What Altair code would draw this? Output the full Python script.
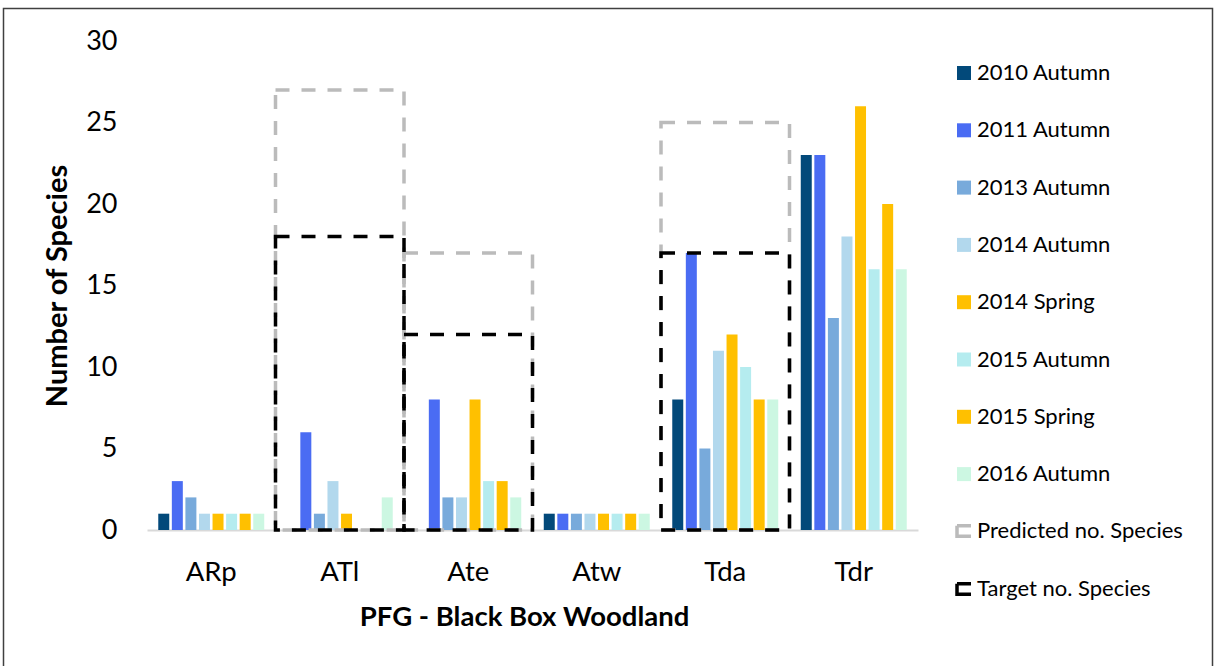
import altair as alt
import pandas as pd

categories = ["ARp", "ATl", "Ate", "Atw", "Tda", "Tdr"]
series = ["2010 Autumn", "2011 Autumn", "2013 Autumn", "2014 Autumn",
          "2014 Spring", "2015 Autumn", "2015 Spring", "2016 Autumn"]
colors = ["#02497A", "#4A6CF3", "#78AADB", "#B2D8ED",
          "#FFC000", "#B5ECEF", "#FFC000", "#CCF7E2"]

values = {
    "2010 Autumn": [1, 0, 0, 1, 8, 23],
    "2011 Autumn": [3, 6, 8, 1, 17, 23],
    "2013 Autumn": [2, 1, 2, 1, 5, 13],
    "2014 Autumn": [1, 3, 2, 1, 11, 18],
    "2014 Spring": [1, 1, 8, 1, 12, 26],
    "2015 Autumn": [1, 0, 3, 1, 10, 16],
    "2015 Spring": [1, 0, 3, 1, 8, 20],
    "2016 Autumn": [1, 2, 2, 1, 8, 16],
}

box_types = ["Predicted no. Species", "Target no. Species"]
box_colors = ["#BBBBBB", "#000000"]
predicted = [0, 27, 17, 0, 25, 0]
target = [0, 18, 12, 0, 17, 0]

FONT = "Lato"

bars_df = pd.DataFrame(
    [{"cat": c, "series": s, "value": values[s][i]}
     for s in series for i, c in enumerate(categories)]
)
box_rows = []
for i, c in enumerate(categories):
    if predicted[i] > 0:
        box_rows.append({"cat": c, "type": box_types[0], "value": predicted[i], "order": 0})
    if target[i] > 0:
        box_rows.append({"cat": c, "type": box_types[1], "value": target[i], "order": 1})
box_df = pd.DataFrame(box_rows)

x_enc = alt.X(
    "cat:N", sort=categories,
    scale=alt.Scale(paddingInner=0, paddingOuter=0),
    axis=alt.Axis(title="PFG - Black Box Woodland", labelAngle=0, ticks=False,
                  domainColor="#D9D9D9", domainWidth=2,
                  labelFontSize=27.5, labelPadding=28, labelColor="#000000",
                  titleFontSize=27.5, titleFontWeight="bold", titlePadding=18,
                  titleX=377, titleColor="#000000"),
)
y_scale = alt.Scale(domain=[0, 30], nice=False)
y_axis = alt.Axis(title="Number of Species", values=[0, 5, 10, 15, 20, 25, 30],
                  domain=False, ticks=False, grid=False,
                  labelFontSize=27, labelPadding=30, labelColor="#000000",
                  titleFontSize=29, titleFontWeight="bold", titlePadding=13,
                  titleColor="#000000"),

bars = alt.Chart(bars_df).mark_bar().encode(
    x=x_enc,
    xOffset=alt.XOffset("series:N", sort=series,
                        scale=alt.Scale(paddingInner=0.19, paddingOuter=0.83)),
    y=alt.Y("value:Q", scale=y_scale, axis=y_axis[0]),
    color=alt.Color("series:N", sort=series,
                    scale=alt.Scale(domain=series, range=colors),
                    legend=alt.Legend(title=None, orient="none", legendX=806, legendY=21,
                                      symbolType="square", symbolSize=196,
                                      labelFontSize=22, labelOffset=2, labelLimit=300,
                                      rowPadding=35.3, labelColor="#000000",
                                      symbolStrokeWidth=0)),
)

boxes = alt.Chart(box_df).mark_bar(filled=False, strokeDash=[14, 12], strokeWidth=3.5).encode(
    x=alt.X("cat:N", sort=categories),
    y=alt.Y("value:Q", scale=y_scale, stack=None),
    stroke=alt.Stroke("type:N", sort=box_types,
                      scale=alt.Scale(domain=box_types, range=box_colors),
                      legend=alt.Legend(title=None, orient="none", legendX=806, legendY=479,
                                        symbolType="M1,-0.75L-1,-0.75L-1,0.75L1,0.75",
                                        symbolSize=196, symbolStrokeWidth=3.5,
                                        symbolDash=[1, 0], symbolFillColor="transparent",
                                        labelFontSize=22, labelOffset=2, labelLimit=300,
                                        rowPadding=32, labelColor="#000000")),
    order=alt.Order("order:Q"),
)

border = alt.Chart(alt.Data(values=[{}])).mark_rect(
    fill="transparent", stroke="#404040", strokeWidth=1.5
).encode(
    x=alt.value(-143.5), x2=alt.value(1065.5),
    y=alt.value(-32.5), y2=alt.value(700),
)

chart = alt.layer(bars, boxes, border).resolve_scale(
    color="independent"
).properties(
    width=771, height=489,
    autosize=alt.AutoSizeParams(type="none"),
    padding={"left": 147, "top": 41, "right": 296, "bottom": 136},
).configure(
    font=FONT, background="white"
).configure_view(
    stroke=None
)

chart.save("out.html", embed_options={"renderer": "svg", "actions": False})
